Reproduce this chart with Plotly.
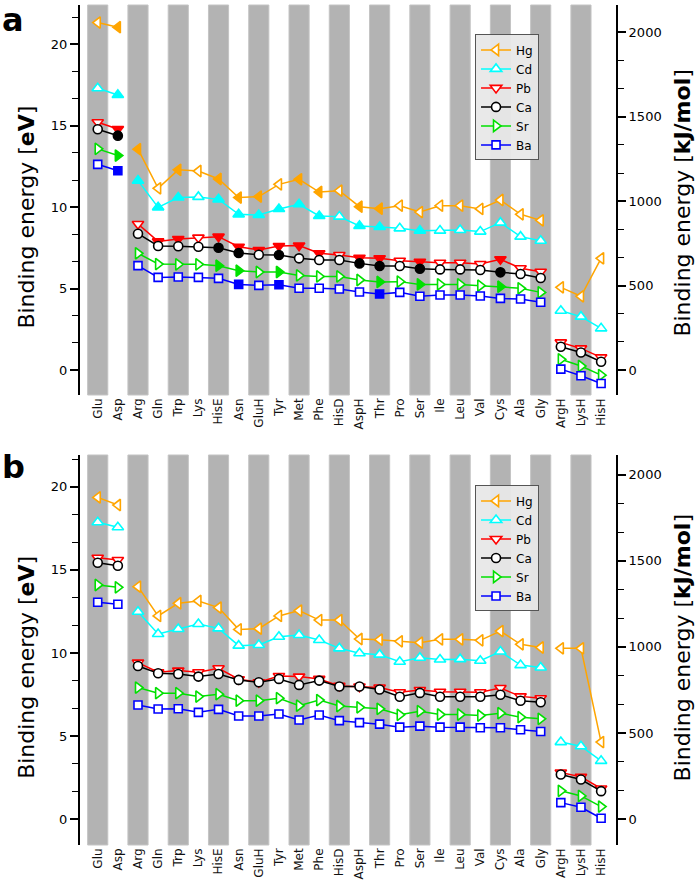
import plotly.graph_objects as go

categories = ["Glu", "Asp", "Arg", "Gln", "Trp", "Lys", "HisE", "Asn", "GluH", "Tyr",
              "Met", "Phe", "HisD", "AspH", "Thr", "Pro", "Ser", "Ile", "Leu", "Val",
              "Cys", "Ala", "Gly", "ArgH", "LysH", "HisH"]
series_names = ["Hg", "Cd", "Pb", "Ca", "Sr", "Ba"]

# Panel a values (eV)
a_Hg = [21.33, 21.05, 13.56, 11.16, 12.29, 12.22, 11.73, 10.59, 10.65, 11.40, 11.71, 10.93, 11.01,
        10.03, 9.91, 10.09, 9.70, 10.09, 10.09, 9.89, 10.44, 9.56, 9.19, 5.08, 4.53, 6.86]
a_Cd = [17.30, 16.89, 11.63, 9.99, 10.59, 10.63, 10.48, 9.56, 9.52, 9.89, 10.18, 9.46, 9.42,
        8.85, 8.78, 8.70, 8.56, 8.56, 8.60, 8.50, 9.05, 8.19, 7.94, 3.64, 3.28, 2.56]
a_Pb = [15.21, 14.80, 8.97, 7.90, 8.05, 8.13, 8.19, 7.57, 7.37, 7.62, 7.64, 7.17, 7.06,
        6.90, 6.86, 6.71, 6.65, 6.59, 6.59, 6.51, 6.80, 6.25, 6.04, 1.70, 1.33, 0.78]
a_Ca = [14.78, 14.39, 8.37, 7.62, 7.60, 7.57, 7.51, 7.19, 7.08, 7.06, 6.86, 6.76, 6.76,
        6.55, 6.39, 6.39, 6.22, 6.18, 6.18, 6.14, 6.00, 5.90, 5.65, 1.43, 1.08, 0.51]
a_Sr = [13.58, 13.17, 7.17, 6.51, 6.49, 6.49, 6.41, 6.10, 6.02, 6.02, 5.81, 5.75, 5.75,
        5.53, 5.41, 5.43, 5.26, 5.26, 5.26, 5.18, 5.12, 5.02, 4.77, 0.66, 0.25, -0.31]
a_Ba = [12.63, 12.24, 6.41, 5.69, 5.71, 5.69, 5.63, 5.26, 5.20, 5.24, 5.02, 5.02, 4.98,
        4.79, 4.67, 4.77, 4.53, 4.61, 4.61, 4.55, 4.40, 4.36, 4.16, 0.06, -0.35, -0.82]

# Panel b values (eV)
b_Hg = [19.36, 18.90, 13.99, 12.23, 12.99, 13.13, 12.73, 11.42, 11.46, 12.23, 12.55, 11.98, 11.98,
        10.84, 10.80, 10.70, 10.62, 10.82, 10.82, 10.76, 11.32, 10.52, 10.33, 10.28, 10.28, 4.64]
b_Cd = [17.86, 17.56, 12.48, 11.14, 11.44, 11.74, 11.48, 10.44, 10.48, 10.98, 11.08, 10.78, 10.28,
        9.98, 9.90, 9.47, 9.71, 9.61, 9.63, 9.53, 10.09, 9.27, 9.13, 4.64, 4.39, 3.51]
b_Pb = [15.73, 15.59, 9.42, 8.84, 8.94, 8.84, 9.08, 8.42, 8.24, 8.62, 8.58, 8.44, 8.02,
        7.98, 7.92, 7.64, 7.77, 7.67, 7.67, 7.64, 7.89, 7.39, 7.28, 2.81, 2.55, 1.85]
b_Ca = [15.43, 15.25, 9.22, 8.78, 8.74, 8.58, 8.74, 8.38, 8.24, 8.44, 8.08, 8.34, 7.98,
        7.98, 7.80, 7.37, 7.60, 7.37, 7.37, 7.37, 7.49, 7.13, 7.04, 2.69, 2.39, 1.69]
b_Sr = [14.09, 13.95, 7.92, 7.58, 7.58, 7.38, 7.52, 7.13, 7.13, 7.28, 6.83, 7.17, 6.81,
        6.73, 6.64, 6.28, 6.50, 6.30, 6.30, 6.24, 6.38, 6.14, 6.04, 1.71, 1.40, 0.76]
b_Ba = [13.05, 12.93, 6.87, 6.63, 6.65, 6.43, 6.61, 6.21, 6.21, 6.33, 5.97, 6.27, 5.93,
        5.81, 5.72, 5.54, 5.60, 5.54, 5.54, 5.50, 5.50, 5.38, 5.28, 1.00, 0.72, 0.06]

# Filled (1) / open (0) markers in panel a
f_Hg = [0, 1, 1, 0, 1, 0, 1, 1, 1, 0, 1, 1, 0, 1, 1, 0, 0, 0, 0, 0, 0, 0, 0, 0, 0, 0]
f_Cd = [0, 1, 1, 1, 1, 0, 1, 1, 1, 1, 1, 1, 0, 1, 1, 0, 1, 0, 0, 0, 0, 0, 0, 0, 0, 0]
f_Pb = [0, 1, 0, 1, 1, 0, 1, 1, 1, 1, 1, 1, 0, 1, 1, 0, 1, 0, 0, 0, 1, 0, 0, 0, 0, 0]
f_Ca = [0, 1, 0, 0, 0, 0, 1, 1, 0, 1, 0, 0, 0, 1, 1, 0, 1, 0, 0, 0, 1, 0, 0, 0, 0, 0]
f_Sr = [0, 1, 0, 0, 0, 0, 1, 1, 0, 1, 0, 0, 0, 0, 1, 0, 1, 0, 0, 0, 1, 0, 0, 0, 0, 0]
f_Ba = [0, 1, 0, 0, 0, 0, 0, 1, 0, 1, 0, 0, 0, 0, 1, 0, 0, 0, 0, 0, 0, 0, 0, 0, 0, 0]

groups = [(0, 2), (2, 23), (23, 26)]  # line segments
EV_TO_KJ = 96.485

colors = {"Hg": "#ffa500", "Cd": "#00ffff", "Pb": "#ff0000", "Ca": "#000000",
          "Sr": "#00e000", "Ba": "#0000ff"}
symbols = {"Hg": "triangle-left", "Cd": "triangle-up", "Pb": "triangle-down",
           "Ca": "circle", "Sr": "triangle-right", "Ba": "square"}
sizes = {"Hg": 10, "Cd": 10, "Pb": 10, "Ca": 9, "Sr": 10, "Ba": 8}

panel_a = {"Hg": a_Hg, "Cd": a_Cd, "Pb": a_Pb, "Ca": a_Ca, "Sr": a_Sr, "Ba": a_Ba}
panel_b = {"Hg": b_Hg, "Cd": b_Cd, "Pb": b_Pb, "Ca": b_Ca, "Sr": b_Sr, "Ba": b_Ba}
fills_a = {"Hg": f_Hg, "Cd": f_Cd, "Pb": f_Pb, "Ca": f_Ca, "Sr": f_Sr, "Ba": f_Ba}


def segmented(values, fills, color):
    xs, ys, cs = [], [], []
    for gi, (s, e) in enumerate(groups):
        if gi > 0:
            xs.append(None); ys.append(None); cs.append("white")
        for i in range(s, e):
            xs.append(i)
            ys.append(values[i])
            cs.append(color if (fills is not None and fills[i]) else "white")
    return xs, ys, cs


fig = go.Figure()

for panel, data, fills, xa, ya, leg in [("a", panel_a, fills_a, "x", "y", "legend"),
                                         ("b", panel_b, None, "x2", "y3", "legend2")]:
    for name in series_names:
        c = colors[name]
        xs, ys, cs = segmented(data[name], fills[name] if fills else None, c)
        fig.add_trace(go.Scatter(
            x=xs, y=ys, mode="lines+markers", name=name,
            line=dict(color=c, width=1.5),
            marker=dict(symbol=symbols[name], size=sizes[name], color=cs,
                        line=dict(color=c, width=1.6)),
            connectgaps=False, xaxis=xa, yaxis=ya, legend=leg,
            hoverinfo="skip"))

# invisible traces to activate secondary axes
fig.add_trace(go.Scatter(x=[0], y=[0], mode="markers", marker=dict(opacity=0),
                         xaxis="x", yaxis="y2", showlegend=False, hoverinfo="skip"))
fig.add_trace(go.Scatter(x=[0], y=[0], mode="markers", marker=dict(opacity=0),
                         xaxis="x2", yaxis="y4", showlegend=False, hoverinfo="skip"))

# gray bands on every other category
shapes = []
for i in range(0, len(categories), 2):
    for xr, yr in [("x", "y domain"), ("x2", "y3 domain")]:
        shapes.append(dict(type="rect", xref=xr, yref=yr, x0=i - 0.5, x1=i + 0.5,
                           y0=0, y1=1, fillcolor="#b3b3b3",
                           line=dict(width=1, color="#c4c4c4"), layer="below"))

font = "DejaVu Sans"
xrange = [-0.88, 25.74]
ra = [-1.53, 22.41]
rb = [-1.55, 21.91]


def xaxis(anchor):
    return dict(range=xrange, tickmode="array", tickvals=list(range(len(categories))),
                ticktext=categories, tickangle=-90, showgrid=False, zeroline=False,
                showline=False, ticks="", tickfont=dict(size=12, color="#111"),
                anchor=anchor, domain=[0, 1])


def yleft(rng, dom):
    return dict(range=rng, domain=dom, showgrid=False, zeroline=False, showline=True,
                linecolor="black", linewidth=2, ticks="outside", ticklen=8, tickwidth=1.5,
                tickcolor="black", tickvals=[0, 5, 10, 15, 20], tickfont=dict(size=13),
                minor=dict(dtick=5 / 3, tick0=0, ticks="outside", ticklen=6,
                           tickcolor="black", tickwidth=1.2))


def yright(rng, overlay):
    return dict(range=[rng[0] * EV_TO_KJ, rng[1] * EV_TO_KJ], overlaying=overlay,
                side="right", showgrid=False, zeroline=False, showline=True,
                linecolor="black", linewidth=2, ticks="outside", ticklen=8, tickwidth=1.5,
                tickcolor="black", tickvals=[0, 500, 1000, 1500, 2000],
                tickfont=dict(size=13),
                minor=dict(dtick=500 / 3, tick0=0, ticks="outside", ticklen=6,
                           tickcolor="black", tickwidth=1.2))


legend_style = dict(bgcolor="rgba(232,232,232,0.95)", bordercolor="#555",
                    borderwidth=1, font=dict(size=12), xanchor="left", yanchor="top",
                    itemwidth=30, tracegroupgap=0)


def title_ann(text, x, y):
    return dict(text=text, xref="paper", yref="paper", x=x, y=y, showarrow=False,
                textangle=-90, font=dict(size=22), xanchor="center", yanchor="middle")


fig.update_layout(
    width=697, height=886,
    margin=dict(l=80, r=81, t=5, b=41),
    paper_bgcolor="white", plot_bgcolor="white",
    font=dict(family=font, color="black"),
    xaxis=xaxis("y"), xaxis2=xaxis("y3"),
    yaxis=yleft(ra, [0.5357, 1.0]), yaxis2=yright(ra, "y"),
    yaxis3=yleft(rb, [0.0, 0.4643]), yaxis4=yright(rb, "y3"),
    shapes=shapes,
    legend=dict(x=0.737, y=0.965, **legend_style),
    legend2=dict(x=0.737, y=0.428, **legend_style),
    annotations=[
        dict(text="<b>a</b>", xref="paper", yref="paper", x=-0.125, y=0.982,
             showarrow=False, font=dict(size=32), xanchor="center", yanchor="middle"),
        dict(text="<b>b</b>", xref="paper", yref="paper", x=-0.125, y=0.45,
             showarrow=False, font=dict(size=32), xanchor="center", yanchor="middle"),
        title_ann("Binding energy [<b>eV</b>]", -0.099, 0.748),
        title_ann("Binding energy [<b>eV</b>]", -0.099, 0.212),
        title_ann("Binding energy [<b>kJ/mol</b>]", 1.1238, 0.764),
        title_ann("Binding energy [<b>kJ/mol</b>]", 1.1238, 0.2345),
    ],
)

fig.write_html("out.html", config={"displayModeBar": False},
               post_script="document.body.style.margin='0';document.body.style.padding='0';")
